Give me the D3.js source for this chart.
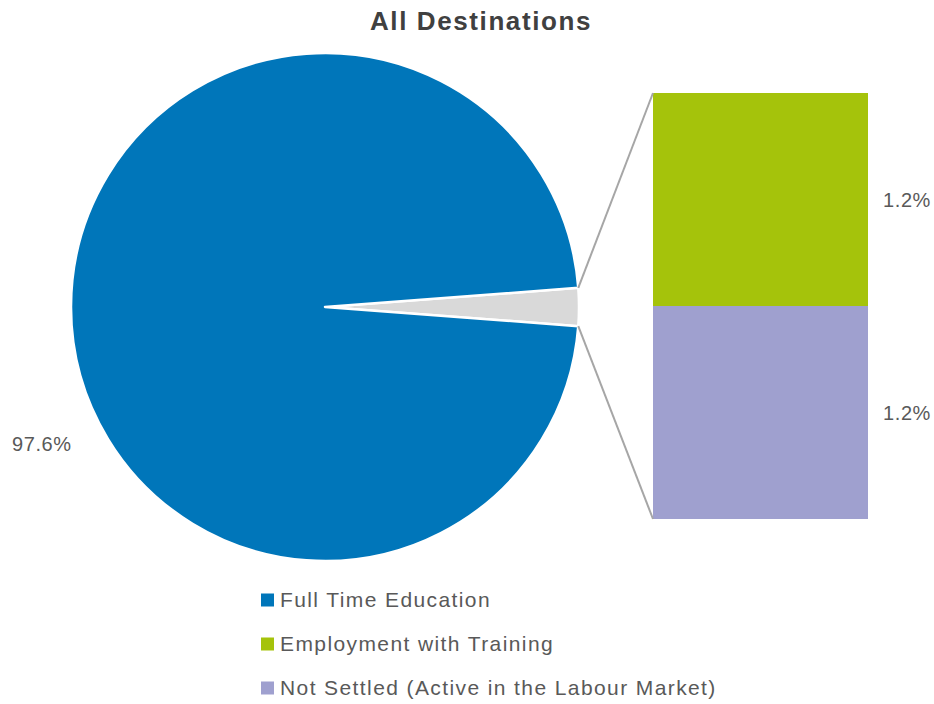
<!DOCTYPE html>
<html><head><meta charset="utf-8">
<script src="https://cdn.jsdelivr.net/npm/d3@7"></script>
<style>
html,body{margin:0;padding:0;background:#fff;}
text{font-family:"Liberation Sans",Arial,sans-serif;}
</style></head>
<body><svg id="c" width="934" height="704"></svg>
<script>
const title = "All Destinations";
const categories = ["Full Time Education", "Employment with Training", "Not Settled (Active in the Labour Market)"];
const values = [97.6, 1.2, 1.2];
const labels = ["97.6%", "1.2%", "1.2%"];
const colors = ["#0076BA", "#A5C30B", "#9FA0CF"];
const otherColor = "#D9D9D9";

const svg = d3.select("#c");
const txt = "#595959";

svg.append("text").attr("x", 481).attr("y", 29.5).attr("text-anchor", "middle")
  .attr("font-size", 26).attr("font-weight", "bold").attr("letter-spacing", 1.6)
  .attr("fill", "#404040").text(title);

// pie
const cx = 325, cy = 307, R = 254;
const otherVal = d3.sum(values.slice(1));
const total = d3.sum(values);
const half = Math.PI * otherVal / total;
const pieData = [{v: otherVal, c: otherColor}, {v: values[0], c: colors[0]}];
const pie = d3.pie().value(d => d.v).sort(null)
  .startAngle(Math.PI / 2 - half).endAngle(Math.PI / 2 - half + 2 * Math.PI);
const arcs = pie(pieData);
const arc = d3.arc().innerRadius(0).outerRadius(R);
const g = svg.append("g").attr("transform", `translate(${cx},${cy})`);
g.selectAll("path").data(arcs).join("path")
  .attr("d", arc).attr("fill", d => d.data.c)
  .attr("stroke", "#fff").attr("stroke-width", 2.5).attr("stroke-linejoin", "round");

// bar of pie
const y = d3.scaleLinear().domain([0, otherVal]).range([519, 93]);
const bx0 = 653, bx1 = 868;
const stackItems = [{v: values[2], c: colors[2], l: labels[2]}, {v: values[1], c: colors[1], l: labels[1]}];
let acc = 0;
stackItems.forEach(s => { s.y0 = acc; acc += s.v; s.y1 = acc; });
svg.selectAll("rect.bar").data(stackItems).join("rect").attr("class", "bar")
  .attr("x", bx0).attr("width", bx1 - bx0)
  .attr("y", d => y(d.y1)).attr("height", d => y(d.y0) - y(d.y1))
  .attr("fill", d => d.c);
svg.selectAll("text.bl").data(stackItems).join("text").attr("class", "bl")
  .attr("x", 883).attr("y", d => (y(d.y0) + y(d.y1)) / 2 + 7)
  .attr("font-size", 20).attr("letter-spacing", 0.6).attr("fill", txt).text(d => d.l);

// connectors
const a0 = Math.PI / 2 - half, a1 = Math.PI / 2 + half;
const p0 = [cx + R * Math.sin(a0), cy - R * Math.cos(a0)];
const p1 = [cx + R * Math.sin(a1), cy - R * Math.cos(a1)];
svg.append("line").attr("x1", p0[0]).attr("y1", p0[1]).attr("x2", bx0).attr("y2", y(otherVal))
  .attr("stroke", "#A6A6A6").attr("stroke-width", 2);
svg.append("line").attr("x1", p1[0]).attr("y1", p1[1]).attr("x2", bx0).attr("y2", y(0))
  .attr("stroke", "#A6A6A6").attr("stroke-width", 2);

// pie label
svg.append("text").attr("x", 12).attr("y", 451).attr("font-size", 20).attr("letter-spacing", 0.6)
  .attr("fill", txt).text(labels[0]);

// legend
const lg = svg.append("g");
categories.forEach((c, i) => {
  const yy = 600 + i * 44;
  lg.append("rect").attr("x", 261).attr("y", yy - 6.5).attr("width", 13).attr("height", 13).attr("fill", colors[i]);
  lg.append("text").attr("x", 280).attr("y", yy + 7).attr("font-size", 21).attr("letter-spacing", 1.4)
    .attr("fill", txt).text(c);
});
</script></body></html>
